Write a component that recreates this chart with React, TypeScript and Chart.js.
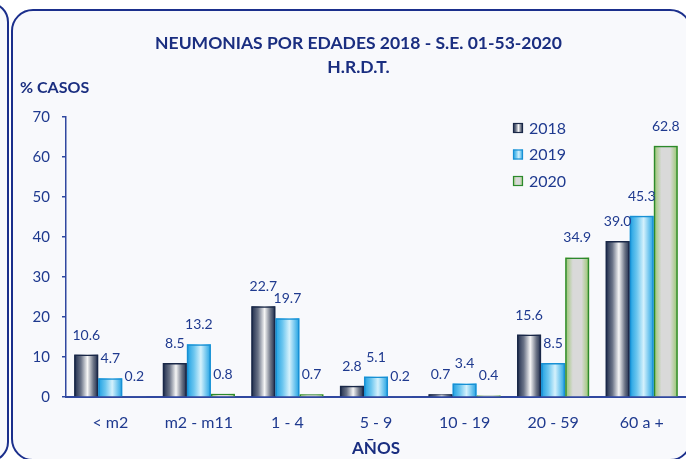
import { useEffect, useRef } from 'react';
import { Chart, registerables } from 'chart.js';

Chart.register(...registerables);

const categories = ['< m2', 'm2 - m11', '1 - 4', '5 - 9', '10 - 19', '20 - 59', '60 a +'];
const seriesLabels = ['2018', '2019', '2020'];
const values2018 = [10.6, 8.5, 22.7, 2.8, 0.7, 15.6, 39.0];
const values2019 = [4.7, 13.2, 19.7, 5.1, 3.4, 8.5, 45.3];
const values2020 = [0.2, 0.8, 0.7, 0.2, 0.4, 34.9, 62.8];
const yTicks = [0, 10, 20, 30, 40, 50, 60, 70];
const titleLines = ['NEUMONIAS POR EDADES 2018 - S.E. 01-53-2020', 'H.R.D.T.'];
const yAxisTitle = '% CASOS';
const xAxisTitle = 'AÑOS';

const FONT = 'Lato, "Open Sans", sans-serif';
const TEXT = '#1f3a8f';
const TITLE = '#1a2e80';
const AXIS = '#3048a0';

const gradients: [number, string][][] = [
  [[0, '#1b2949'], [0.28, '#6a7387'], [0.55, '#f6f6f6'], [0.8, '#6b7385'], [1, '#1b2949']],
  [[0, '#1c9fe2'], [0.3, '#6cc6ef'], [0.58, '#d4f1fc'], [0.85, '#5cbdec'], [1, '#1e9fe0']],
  [[0, '#96c66a'], [0.32, '#d9d9d9'], [0.68, '#d9d9d9'], [1, '#96c66a']],
];
const borders = ['#1a2848', '#1890d4', '#2c8a2c'];

function fillGradient(ctx: CanvasRenderingContext2D, left: number, top: number, w: number, h: number, stops: [number, string][]) {
  const g = ctx.createLinearGradient(left, 0, left + w, 0);
  stops.forEach(([o, c]) => g.addColorStop(o, c));
  ctx.fillStyle = g;
  ctx.fillRect(left, top, w, h);
}

const gradientPlugin = {
  id: 'barGradient',
  beforeDatasetsDraw(chart: any) {
    const ctx = chart.ctx;
    ctx.save();
    chart.data.datasets.forEach((_ds: any, di: number) => {
      const meta = chart.getDatasetMeta(di);
      meta.data.forEach((bar: any) => {
        const { x, y, base, width } = bar.getProps(['x', 'y', 'base', 'width'], true);
        const left = x - width / 2;
        fillGradient(ctx, left, Math.min(y, base), width, Math.abs(base - y), gradients[di]);
      });
    });
    ctx.restore();
  },
};

const labelPlugin = {
  id: 'valueLabels',
  afterDatasetsDraw(chart: any) {
    const ctx = chart.ctx;
    ctx.save();
    ctx.font = `14px ${FONT}`;
    ctx.fillStyle = TEXT;
    ctx.textAlign = 'center';
    ctx.textBaseline = 'middle';
    chart.data.datasets.forEach((ds: any, di: number) => {
      const meta = chart.getDatasetMeta(di);
      meta.data.forEach((bar: any, i: number) => {
        const { x, y } = bar.getProps(['x', 'y'], true);
        ctx.fillText(Number(ds.data[i]).toFixed(1), x, y - 19.5);
      });
    });
    ctx.restore();
  },
};

const extrasPlugin = {
  id: 'extras',
  afterDraw(chart: any) {
    const ctx = chart.ctx;
    const area = chart.chartArea;
    ctx.save();
    ctx.font = `bold 16px ${FONT}`;
    ctx.fillStyle = TITLE;
    ctx.textAlign = 'left';
    ctx.textBaseline = 'middle';
    ctx.fillText(yAxisTitle, 20, area.top - 29.5);
    const lx = area.right - 173;
    const ly0 = area.top + 6;
    ctx.font = `16px ${FONT}`;
    chart.data.datasets.forEach((ds: any, di: number) => {
      const top = ly0 + di * 26.5;
      fillGradient(ctx, lx, top, 10, 10, gradients[di]);
      ctx.strokeStyle = borders[di];
      ctx.lineWidth = 1.2;
      ctx.strokeRect(lx + 0.5, top + 0.5, 9, 9);
      ctx.fillStyle = TEXT;
      ctx.fillText(ds.label, lx + 16, top + 5.5);
    });
    ctx.restore();
  },
};

export default function App() {
  const ref = useRef<HTMLCanvasElement>(null);
  useEffect(() => {
    if (!ref.current) return;
    const series = [values2018, values2019, values2020];
    const chart = new Chart(ref.current, {
      type: 'bar',
      data: {
        labels: categories,
        datasets: series.map((vals, i) => ({
          label: seriesLabels[i],
          data: vals,
          backgroundColor: 'rgba(0,0,0,0)',
          borderColor: borders[i],
          borderWidth: 1.5,
          barPercentage: 1,
          categoryPercentage: 0.815,
        })),
      },
      options: {
        responsive: false,
        animation: false,
        layout: { padding: { left: 31, right: 0, top: 0, bottom: 0 } },
        plugins: {
          legend: { display: false },
          tooltip: { enabled: false },
          title: {
            display: true,
            text: titleLines,
            color: TITLE,
            font: { family: FONT, size: 17.5, weight: 'bold', lineHeight: 24 / 17.5 },
            padding: { top: 31, bottom: 38 },
          },
        },
        scales: {
          x: {
            offset: true,
            z: 1,
            grid: { display: false, drawTicks: false },
            border: { display: true, color: AXIS, width: 2 },
            ticks: { color: TEXT, font: { family: FONT, size: 16 }, padding: 16 },
            title: {
              display: true,
              text: xAxisTitle,
              color: TITLE,
              font: { family: FONT, size: 17, weight: 'bold' },
              padding: { top: 2, bottom: 0 },
            },
            afterFit: (scale: any) => {
              scale.height = 62;
            },
          },
          y: {
            min: 0,
            max: 70,
            afterBuildTicks: (scale: any) => {
              scale.ticks = yTicks.map((v) => ({ value: v }));
            },
            ticks: { color: TEXT, font: { family: FONT, size: 15 }, padding: 12 },
            grid: { display: true, drawOnChartArea: false, drawTicks: true, tickLength: 4, color: AXIS, lineWidth: 1.5 },
            border: { display: true, color: AXIS, width: 1.5 },
            afterFit: (scale: any) => {
              scale.width = 35;
            },
          },
        },
      },
      plugins: [gradientPlugin, labelPlugin, extrasPlugin],
    } as any);
    return () => chart.destroy();
  }, []);

  const border = '2.5px solid #1b2f8c';
  return (
    <div style={{ position: 'fixed', left: 0, top: 0, width: 686, height: 459, background: '#ffffff', overflow: 'hidden' }}>
      <div style={{ position: 'absolute', left: -41, top: 2, width: 50, height: 460, border, borderRadius: 20, boxSizing: 'border-box', background: '#f8f9fc' }} />
      <div style={{ position: 'absolute', left: 11, top: 9, width: 681, height: 452, border, borderRadius: 22, boxSizing: 'border-box', background: '#f8f9fc' }} />
      <canvas ref={ref} width={686} height={459} style={{ position: 'absolute', left: 0, top: 0 }} />
    </div>
  );
}
